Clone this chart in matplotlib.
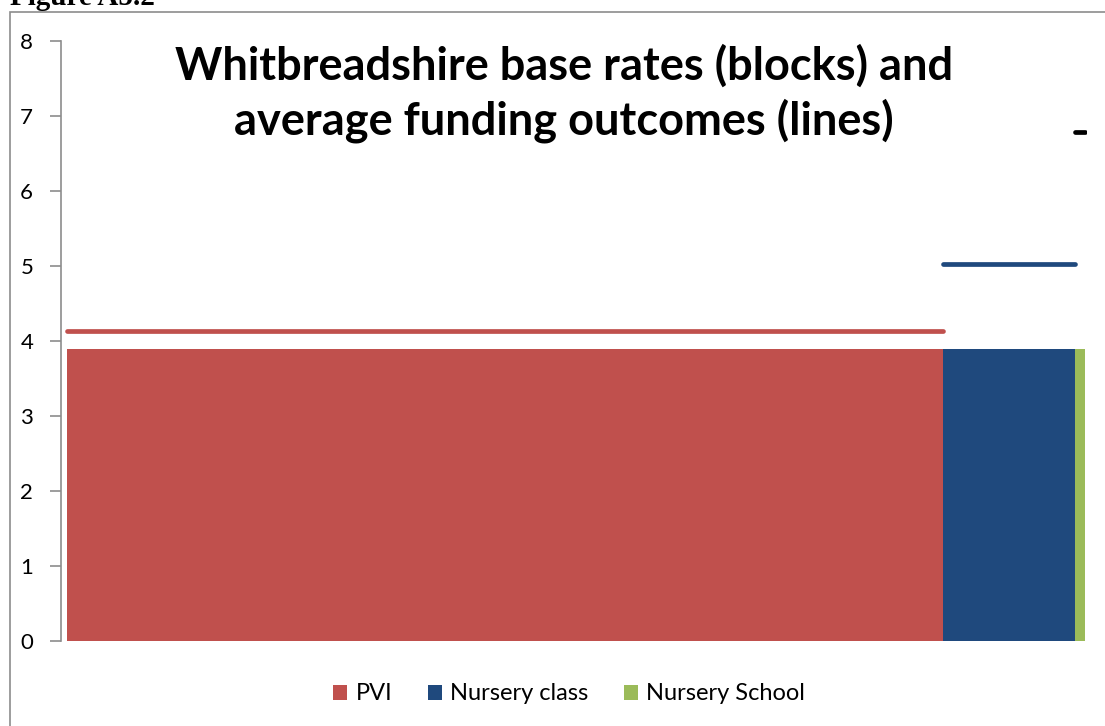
import matplotlib.pyplot as plt
from matplotlib.patches import Patch, Rectangle
import numpy as np

# DATA
categories = ['PVI', 'Nursery class', 'Nursery School']
share = [86.1, 12.9, 1.0]          # block widths (share of places, %)
base_rate = [3.9, 3.9, 3.9]        # block heights
avg_funding = [4.13, 5.03, 6.79]   # line levels
bar_colors = ['#C0504D', '#1F497D', '#9BBB59']
line_colors = ['#C0504D', '#1F497D', '#000000']
yticks = [0, 1, 2, 3, 4, 5, 6, 7, 8]

plt.rcParams['font.family'] = ['Lato', 'DejaVu Sans']

W, H = 1105, 726
fig = plt.figure(figsize=(W / 100, H / 100), dpi=100)

# outer frame, like the pasted chart box
fig.patches.append(Rectangle((10 / W, -0.1), 2, 1.1 - 12 / H, transform=fig.transFigure,
                             fill=False, edgecolor='#8C8C8C', linewidth=1.2))
# clipped figure caption at top
fig.text(10 / W, 1 - 5 / H, 'Figure A5.2', family='Liberation Serif', fontweight='bold',
         fontsize=21, ha='left', va='baseline')

ax = fig.add_axes([61 / W, 1 - 641 / H, (1087 - 61) / W, 600 / H])

lefts = np.concatenate([[0], np.cumsum(share)[:-1]])
ax.bar(lefts, base_rate, width=share, align='edge', color=bar_colors, linewidth=0)

for l, w, v, c in zip(lefts, share, avg_funding, line_colors):
    ax.plot([l, l + w], [v, v], color=c, linewidth=3.4, solid_capstyle='round')

ax.set_xlim(-0.59, 100.2)
ax.set_ylim(0, 8)
ax.set_yticks(yticks)
ax.tick_params(axis='y', direction='out', length=8, width=1.2, color='#8C8C8C',
               labelsize=16, pad=12)
ax.set_xticks([])
for s in ['top', 'right', 'bottom']:
    ax.spines[s].set_visible(False)
ax.spines['left'].set_color('#8C8C8C')
ax.spines['left'].set_linewidth(1.2)

ax.text(0.49, 0.995, 'Whitbreadshire base rates (blocks) and\naverage funding outcomes (lines)',
        transform=ax.transAxes, ha='center', va='top', fontsize=32.5, fontweight='bold',
        linespacing=1.3)

handles = [Patch(facecolor=c, edgecolor='none') for c in bar_colors]
fig.legend(handles, categories, loc='center', bbox_to_anchor=(569 / W, 1 - 694 / H),
           ncol=3, frameon=False, fontsize=17, handlelength=0.6, handleheight=0.6,
           handletextpad=0.35, columnspacing=1.5)

fig.savefig('out.png', dpi=100)
